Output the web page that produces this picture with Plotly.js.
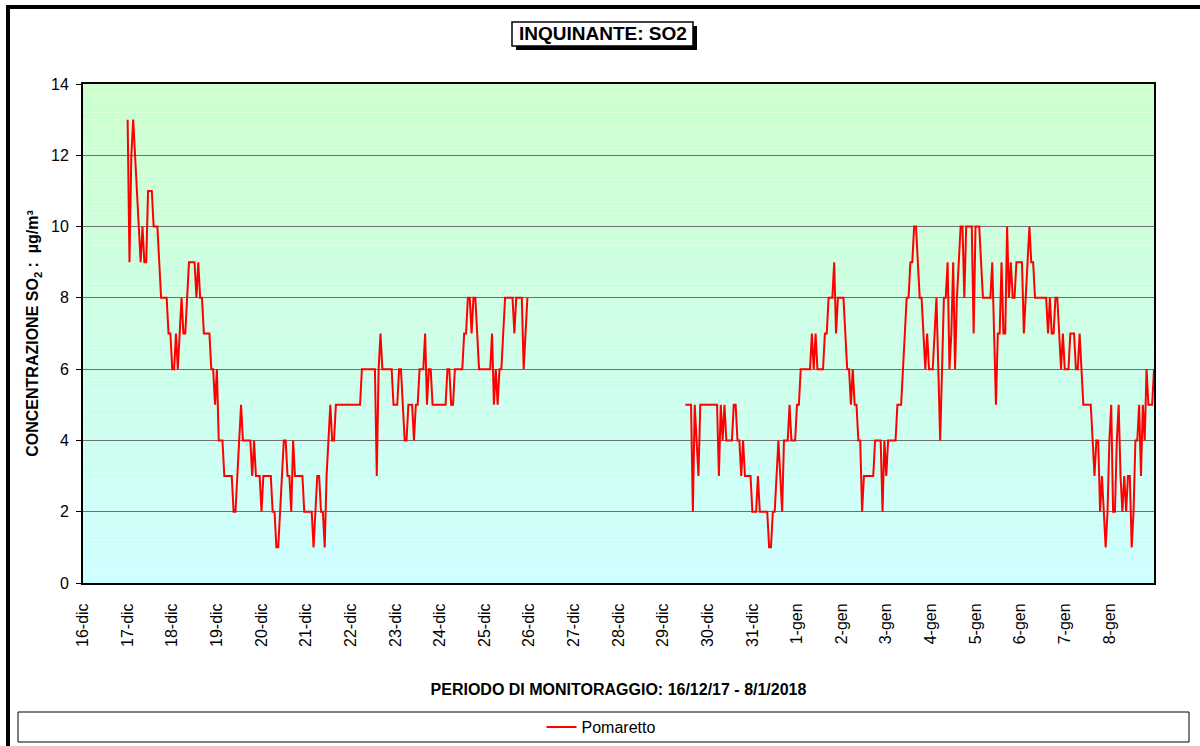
<!DOCTYPE html>
<html>
<head>
<meta charset="utf-8">
<script src="https://cdn.plot.ly/plotly-3.0.1.min.js"></script>
<style>html,body{margin:0;padding:0;background:#fff;}#chart{width:1200px;height:746px;}</style>
</head>
<body>
<div id="chart"></div>
<script>
// ---------- DATA (hourly SO2 concentrations, µg/m³) ----------
const seriesName = 'Pomaretto';
const seg1Start = '2017-12-17 00:00';
const seg1Values = [
  13,9,12,13,12,11,10,9,10,9,9,11,11,11,10,10,10,9,8,8,8,8,7,7,
  6,6,7,6,7,8,7,7,8,9,9,9,9,8,9,8,8,7,7,7,7,6,6,5,
  6,4,4,4,3,3,3,3,3,2,2,3,4,5,4,4,4,4,4,3,4,3,3,3,
  2,3,3,3,3,3,2,2,1,1,2,3,4,4,3,3,2,4,3,3,3,3,3,2,
  2,2,2,2,1,2,3,3,2,2,1,3,4,5,4,4,5,5,5,5,5,5,5,5,
  5,5,5,5,5,5,6,6,6,6,6,6,6,6,3,6,7,6,6,6,6,6,6,5,
  5,5,6,6,5,4,4,5,5,5,4,5,5,6,6,6,7,5,6,6,5,5,5,5,
  5,5,5,5,6,6,5,5,6,6,6,6,6,7,7,8,8,7,8,8,7,6,6,6,
  6,6,6,6,7,5,6,5,6,6,7,8,8,8,8,8,7,8,8,8,8,6,7,8
];
const seg2Start = '2017-12-29 12:00';
const seg2Values = [
  5,5,5,5,2,5,4,3,5,5,5,5,5,5,5,5,5,5,3,5,4,5,4,4,
  4,4,5,5,4,4,3,4,3,3,3,3,2,2,2,3,2,2,2,2,2,1,1,2,
  2,3,4,3,2,4,4,4,5,4,4,4,5,5,6,6,6,6,6,6,7,6,7,6,
  6,6,6,7,7,8,8,8,9,7,8,8,8,8,7,6,6,5,6,5,5,4,4,2,
  3,3,3,3,3,3,4,4,4,4,2,4,3,4,4,4,4,4,5,5,5,6,7,8,
  8,9,9,10,10,9,8,8,7,6,7,6,6,6,7,8,6,4,6,8,8,9,6,7,
  9,6,8,9,10,10,8,10,10,10,10,7,10,10,10,9,8,8,8,8,8,9,7,5,
  7,7,9,7,7,10,8,9,8,8,9,9,9,9,7,8,9,10,9,9,8,8,8,8,
  8,8,8,7,8,7,7,8,8,7,6,7,6,6,6,7,7,7,6,6,7,6,5,5,
  5,5,5,4,3,4,4,2,3,2,1,2,4,5,2,2,4,5,3,2,3,2,3,3,
  1,2,4,4,5,3,5,4,6,5,5,5,6
];
const tickLabels = ['16-dic','17-dic','18-dic','19-dic','20-dic','21-dic','22-dic','23-dic','24-dic','25-dic','26-dic','27-dic','28-dic','29-dic','30-dic','31-dic','1-gen','2-gen','3-gen','4-gen','5-gen','6-gen','7-gen','8-gen'];
const firstDay = '2017-12-16 00:00';
const lastDay = '2018-01-09 00:00';
const chartTitle = 'INQUINANTE: SO2';
const xTitle = 'PERIODO DI MONITORAGGIO: 16/12/17 - 8/1/2018';
const yTitle = 'CONCENTRAZIONE SO<sub>2</sub> :  µg/m³';

(function(){
// ---------- helpers ----------
function parseTs(s){const [d,t]=s.split(' ');const [Y,M,D]=d.split('-').map(Number);const [h,m]=t.split(':').map(Number);return Date.UTC(Y,M-1,D,h,m);}
function fmt(ms){return new Date(ms).toISOString().slice(0,16).replace('T',' ');}
function hourly(start,n){const b=parseTs(start);return Array.from({length:n},(_,i)=>fmt(b+i*3600000));}

const x1 = hourly(seg1Start, seg1Values.length);
const x2 = hourly(seg2Start, seg2Values.length);
const gapX = fmt(parseTs(seg1Start)+seg1Values.length*3600000);
const xs = x1.concat([gapX], x2);
const ys = seg1Values.concat([null], seg2Values);

const dayBase = parseTs(firstDay);
const tickVals = tickLabels.map((_,i)=>fmt(dayBase+i*86400000));

// ---------- geometry ----------
const W=1200,H=746,L=83,R=1154,T=84,B=583;
const px2x = p => (p-L)/(R-L);
const px2y = p => (B-p)/(B-T);
const FONT = 'Arial, "Liberation Sans", sans-serif';

// gradient background bands
const shapes = [];
const nBands = 140;
const colTop = [204,255,204], colBot = [204,255,255];
for(let i=0;i<nBands;i++){
  const f=(i+0.5)/nBands;
  const c=colBot.map((v,k)=>Math.round(v+(colTop[k]-v)*f));
  shapes.push({type:'rect',xref:'paper',yref:'paper',x0:0,x1:1,y0:i/nBands,y1:(i+1)/nBands,
    fillcolor:`rgb(${c[0]},${c[1]},${c[2]})`,line:{width:0},layer:'below'});
}
// outer frame
shapes.push({type:'rect',xref:'paper',yref:'paper',x0:px2x(8),x1:px2x(1240),y0:px2y(800),y1:px2y(7),
  line:{color:'#000',width:4},fillcolor:'rgba(0,0,0,0)',layer:'above'});
// title box shadow + box
shapes.push({type:'rect',xref:'paper',yref:'paper',x0:px2x(516),x1:px2x(697),y0:px2y(50),y1:px2y(26),
  line:{width:0},fillcolor:'#000',layer:'above'});
shapes.push({type:'rect',xref:'paper',yref:'paper',x0:px2x(512),x1:px2x(693),y0:px2y(46),y1:px2y(22),
  line:{color:'#000',width:1.5},fillcolor:'#fff',layer:'above'});
// legend box
shapes.push({type:'rect',xref:'paper',yref:'paper',x0:px2x(18),x1:px2x(1189),y0:px2y(742),y1:px2y(712),
  line:{color:'#000',width:1},fillcolor:'#fff',layer:'above'});

const trace = {x:xs,y:ys,type:'scatter',mode:'lines',name:seriesName,connectgaps:false,
  line:{color:'#ff0000',width:2}};

const layout = {
  width:W,height:H,
  margin:{l:L,r:W-R,t:T,b:H-B,pad:0,autoexpand:false},
  paper_bgcolor:'#fff',plot_bgcolor:'rgba(0,0,0,0)',
  font:{family:FONT,color:'#000',size:16},
  showlegend:true,
  legend:{orientation:'h',x:px2x(601),xanchor:'center',y:px2y(727),yanchor:'middle',
    bgcolor:'rgba(0,0,0,0)',borderwidth:0,font:{family:FONT,size:16,color:'#000'}},
  xaxis:{type:'date',range:[firstDay,lastDay],tickmode:'array',tickvals:tickVals,ticktext:tickLabels,
    automargin:false,
    tickangle:-90,ticks:'',ticklabelstandoff:12,tickfont:{family:FONT,size:16,color:'#000'},
    showgrid:false,zeroline:false,showline:true,mirror:true,linecolor:'#000',linewidth:2,
    title:{text:'<b>'+xTitle+'</b>',font:{family:FONT,size:16,color:'#000'},standoff:38}},
  yaxis:{range:[0,14],dtick:2,tick0:0,ticks:'outside',ticklen:5,tickwidth:1,tickcolor:'#000',
    automargin:false,
    ticklabelstandoff:4,tickfont:{family:FONT,size:16,color:'#000'},
    showgrid:true,gridcolor:'#6f6f6f',gridwidth:1,zeroline:false,showline:true,mirror:true,
    linecolor:'#000',linewidth:2,
    title:{text:'<b>'+yTitle+'</b>',font:{family:FONT,size:16,color:'#000'},standoff:8}},
  shapes:shapes,
  annotations:[{xref:'paper',yref:'paper',x:px2x(602.5),y:px2y(34),xanchor:'center',yanchor:'middle',
    text:'<b>'+chartTitle+'</b>',showarrow:false,font:{family:FONT,size:19,color:'#000'}}]
};

Plotly.newPlot('chart',[trace],layout,{staticPlot:true,displayModeBar:false});
})();
</script>
</body>
</html>
